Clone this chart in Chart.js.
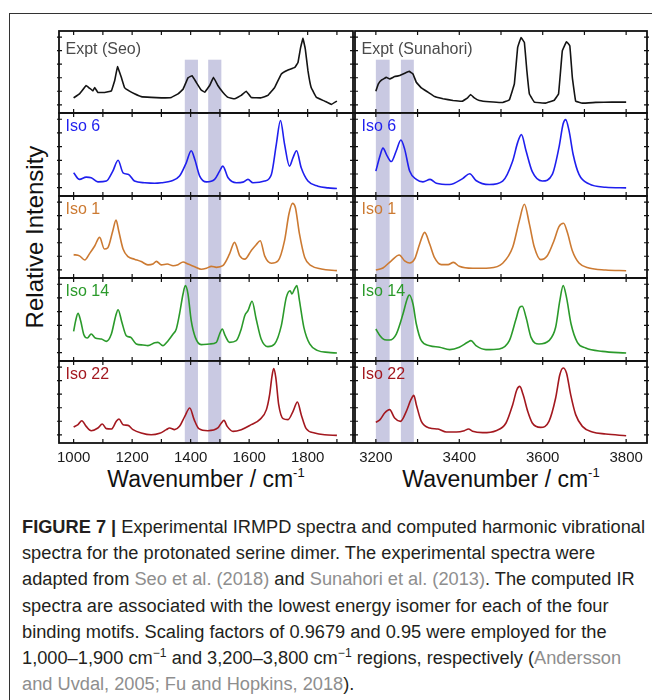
<!DOCTYPE html>
<html>
<head>
<meta charset="utf-8">
<script src="https://cdn.jsdelivr.net/npm/chart.js@4.4.0/dist/chart.umd.min.js"></script>
<style>
  body { margin: 0; background: #fff; width: 652px; height: 700px; overflow: hidden; position: relative; font-family: "Liberation Sans", Arial, sans-serif; }
  .frame { position: absolute; left: 9px; top: 13px; width: 800px; height: 800px; border-left: 1.5px solid #333; border-top: 1.5px solid #333; }
  .box { position: absolute; }
  .lbl { position: absolute; font-size: 16px; line-height: 16px; white-space: nowrap; }
  .axt { position: absolute; font-size: 23px; line-height: 23px; text-align: center; color: #111; white-space: nowrap; }
  .axt sup { font-size: 13px; line-height: 0; vertical-align: 10px; }
  #yt { position: absolute; left: 35px; top: 237px; font-size: 24px; line-height: 24px; color: #111; white-space: nowrap; transform: translate(-50%, -50%) rotate(-90deg); }
  #cap { position: absolute; left: 22px; top: 514px; font-size: 18px; line-height: 26.2px; color: #231f20; white-space: nowrap; transform-origin: 0 0; }
  #cap .ref { color: #8e8e8e; }
  #cap sup { font-size: 12px; line-height: 0; vertical-align: 7px; }
</style>
</head>
<body>
<div class="frame"></div>
<div id="yt">Relative Intensity</div>
<div class="axt" style="left:59px;top:468px;width:294px">Wavenumber / cm<sup>-1</sup></div>
<div class="axt" style="left:355px;top:468px;width:292px">Wavenumber / cm<sup>-1</sup></div>
<div id="cap"><span id="l1"><b>FIGURE 7 |</b> Experimental IRMPD spectra and computed harmonic vibrational</span><br>spectra for the protonated serine dimer. The experimental spectra were<br>adapted from <span class="ref">Seo et al. (2018)</span> and <span class="ref">Sunahori et al. (2013)</span>. The computed IR<br>spectra are associated with the lowest energy isomer for each of the four<br>binding motifs. Scaling factors of 0.9679 and 0.95 were employed for the<br>1,000–1,900 cm<sup>−1</sup> and 3,200–3,800 cm<sup>−1</sup> regions, respectively (<span class="ref">Andersson</span><br><span class="ref">and Uvdal, 2005; Fu and Hopkins, 2018</span>).</div>

<script>
// tick labels and shaded bands
const lowTicks = [1000, 1200, 1400, 1600, 1800];
const lowMinor = [1000, 1100, 1200, 1300, 1400, 1500, 1600, 1700, 1800, 1900];
const highTicks = [3200, 3400, 3600, 3800];
const highMinor = [3200, 3300, 3400, 3500, 3600, 3700, 3800];
const lowBands = [[1380, 1425], [1460, 1505]];
const highBands = [[3200, 3233], [3260, 3291]];
const yTickVals = [0.10, 0.265, 0.43, 0.595, 0.76, 0.925];

const panelLabels = ['Expt (Seo)', 'Iso 6', 'Iso 1', 'Iso 14', 'Iso 22'];
const panelLabelsHigh = ['Expt (Sunahori)', 'Iso 6', 'Iso 1', 'Iso 14', 'Iso 22'];

// 1000-1900 cm-1 region
const seoWn = [1000,1020,1043,1055,1066,1072,1083,1106,1129,1140,1150,1163,1174,1191,1208,1231,1265,1300,1334,1357,1374,1391,1405,1419,1436,1448,1465,1478,1493,1510,1528,1550,1573,1590,1607,1641,1664,1687,1710,1733,1756,1767,1776,1784,1792,1801,1812,1830,1858,1881,1900];
const seoInt = [0.185,0.234,0.335,0.30,0.27,0.31,0.25,0.25,0.27,0.39,0.565,0.435,0.31,0.266,0.234,0.20,0.19,0.185,0.19,0.234,0.29,0.43,0.455,0.375,0.28,0.254,0.335,0.435,0.335,0.254,0.19,0.173,0.214,0.266,0.19,0.185,0.214,0.31,0.476,0.524,0.556,0.617,0.80,0.91,0.78,0.516,0.31,0.19,0.145,0.105,0.145];

const iso6LoWn = [1000,1020,1043,1060,1083,1112,1134,1152,1169,1188,1208,1243,1277,1300,1334,1362,1385,1402,1414,1431,1454,1482,1499,1510,1528,1556,1579,1596,1613,1653,1676,1693,1707,1721,1738,1750,1762,1778,1801,1835,1870,1900];
const iso6LoInt = [0.28,0.20,0.228,0.22,0.17,0.18,0.30,0.43,0.28,0.26,0.18,0.16,0.154,0.16,0.18,0.24,0.40,0.545,0.443,0.24,0.17,0.20,0.30,0.36,0.22,0.16,0.167,0.20,0.16,0.18,0.26,0.626,0.91,0.626,0.36,0.463,0.545,0.34,0.18,0.118,0.098,0.09];

const iso1LoWn = [1000,1020,1038,1055,1072,1089,1105,1117,1134,1145,1154,1169,1186,1208,1231,1254,1271,1283,1300,1320,1340,1357,1374,1391,1414,1436,1454,1471,1488,1510,1533,1550,1568,1585,1607,1624,1638,1653,1676,1699,1721,1736,1748,1758,1772,1790,1812,1847,1900];
const iso1LoInt = [0.285,0.27,0.22,0.30,0.39,0.496,0.354,0.37,0.577,0.707,0.577,0.354,0.26,0.23,0.20,0.16,0.17,0.203,0.16,0.17,0.15,0.163,0.195,0.17,0.138,0.106,0.118,0.142,0.13,0.15,0.293,0.435,0.27,0.23,0.333,0.406,0.455,0.27,0.18,0.21,0.455,0.78,0.91,0.86,0.537,0.25,0.15,0.11,0.09];

const iso14LoWn = [1000,1007,1015,1024,1035,1047,1060,1074,1095,1112,1129,1144,1152,1165,1180,1195,1214,1237,1254,1277,1288,1305,1323,1340,1351,1362,1374,1382,1391,1402,1416,1436,1465,1488,1499,1508,1518,1533,1556,1573,1585,1596,1610,1624,1641,1664,1687,1710,1727,1740,1746,1755,1763,1772,1787,1807,1835,1870,1900];
const iso14LoInt = [0.357,0.486,0.574,0.486,0.317,0.277,0.325,0.277,0.265,0.237,0.325,0.546,0.618,0.466,0.305,0.285,0.205,0.193,0.185,0.22,0.225,0.185,0.245,0.325,0.386,0.566,0.807,0.908,0.807,0.486,0.285,0.197,0.205,0.225,0.325,0.386,0.305,0.225,0.245,0.386,0.546,0.606,0.72,0.506,0.265,0.173,0.205,0.426,0.767,0.847,0.807,0.867,0.908,0.727,0.406,0.205,0.125,0.104,0.096];

const iso22LoWn = [1000,1015,1028,1043,1060,1083,1098,1112,1129,1146,1155,1169,1186,1203,1231,1265,1294,1317,1328,1345,1362,1380,1397,1412,1428,1459,1493,1505,1514,1525,1545,1573,1607,1636,1659,1670,1678,1684,1691,1701,1716,1733,1750,1765,1778,1795,1824,1858,1900];
const iso22LoInt = [0.195,0.224,0.272,0.203,0.15,0.183,0.232,0.175,0.17,0.264,0.293,0.224,0.215,0.163,0.122,0.10,0.118,0.163,0.183,0.163,0.203,0.325,0.427,0.285,0.175,0.15,0.183,0.244,0.276,0.203,0.142,0.163,0.224,0.285,0.407,0.59,0.813,0.907,0.80,0.467,0.297,0.285,0.386,0.50,0.346,0.175,0.122,0.10,0.093];

// 3200-3800 cm-1 region
const sunWn = [3200,3206,3214,3225,3233,3245,3257,3269,3280,3289,3297,3309,3325,3341,3361,3385,3408,3420,3427,3436,3448,3472,3504,3520,3532,3540,3548,3556,3562,3568,3580,3607,3627,3638,3647,3657,3665,3671,3679,3695,3727,3766,3800];
const sunInt = [0.266,0.355,0.403,0.435,0.415,0.444,0.456,0.484,0.508,0.476,0.375,0.306,0.254,0.20,0.173,0.153,0.145,0.185,0.226,0.185,0.153,0.137,0.129,0.16,0.355,0.80,0.92,0.86,0.516,0.234,0.133,0.121,0.153,0.234,0.758,0.87,0.82,0.435,0.145,0.121,0.129,0.133,0.133];

const iso6HiWn = [3200,3210,3217,3227,3237,3249,3260,3269,3281,3297,3313,3330,3345,3377,3408,3425,3440,3472,3504,3528,3540,3549,3560,3575,3599,3623,3639,3649,3655,3663,3673,3687,3711,3751,3800];
const iso6HiInt = [0.30,0.484,0.577,0.484,0.415,0.545,0.675,0.565,0.30,0.20,0.17,0.20,0.154,0.138,0.21,0.268,0.187,0.138,0.18,0.423,0.646,0.74,0.545,0.293,0.18,0.26,0.585,0.87,0.92,0.79,0.50,0.26,0.146,0.106,0.098];

const iso1HiWn = [3200,3217,3237,3256,3269,3281,3293,3305,3317,3329,3341,3357,3373,3386,3400,3432,3472,3504,3528,3544,3556,3568,3580,3595,3611,3627,3639,3650,3659,3671,3687,3711,3751,3800];
const iso1HiInt = [0.098,0.122,0.21,0.28,0.21,0.183,0.232,0.415,0.557,0.415,0.244,0.163,0.163,0.19,0.142,0.118,0.122,0.18,0.374,0.70,0.90,0.66,0.374,0.224,0.272,0.455,0.626,0.667,0.557,0.333,0.183,0.122,0.098,0.089];

const iso14HiWn = [3200,3210,3221,3233,3249,3265,3275,3280,3289,3297,3309,3329,3353,3377,3400,3420,3428,3440,3464,3496,3520,3536,3545,3551,3560,3572,3591,3615,3631,3641,3649,3657,3668,3683,3703,3743,3800];
const iso14HiInt = [0.386,0.305,0.257,0.253,0.325,0.566,0.747,0.795,0.687,0.446,0.245,0.185,0.165,0.137,0.165,0.225,0.245,0.185,0.137,0.145,0.245,0.506,0.647,0.659,0.526,0.285,0.205,0.245,0.406,0.727,0.908,0.767,0.446,0.225,0.157,0.116,0.096];

const iso22HiWn = [3200,3210,3221,3233,3245,3259,3273,3284,3291,3297,3309,3329,3349,3369,3393,3412,3422,3432,3456,3488,3512,3528,3538,3545,3553,3564,3575,3595,3615,3631,3641,3649,3657,3667,3679,3695,3719,3751,3800];
const iso22HiInt = [0.252,0.285,0.366,0.407,0.305,0.264,0.386,0.528,0.581,0.467,0.264,0.183,0.171,0.134,0.134,0.15,0.171,0.142,0.126,0.15,0.244,0.467,0.65,0.69,0.59,0.386,0.244,0.19,0.264,0.549,0.833,0.915,0.854,0.59,0.346,0.203,0.134,0.11,0.089];

const lineColours = ['#141414', '#1f1fee', '#cc7a32', '#2b9a2b', '#a3181f'];
const labelColours = ['#4a4a4a', '#1f1fee', '#cc7a32', '#2b9a2b', '#a3181f'];
const bandColour = '#c9c9e2';

Chart.defaults.font.family = '"Liberation Sans", Arial, sans-serif';

const PAD = 3, AXH = 30;
const rowTop = [31, 113, 196, 278, 361];
const rowH = [82, 83, 82, 83, 82];
const cols = [
  { left: 59, width: 294, min: 950, max: 1955, ticks: lowTicks, minor: lowMinor, bands: lowBands, labels: panelLabels,
    series: [[seoWn, seoInt], [iso6LoWn, iso6LoInt], [iso1LoWn, iso1LoInt], [iso14LoWn, iso14LoInt], [iso22LoWn, iso22LoInt]] },
  { left: 355, width: 292, min: 3150, max: 3850, ticks: highTicks, minor: highMinor, bands: highBands, labels: panelLabelsHigh,
    series: [[sunWn, sunInt], [iso6HiWn, iso6HiInt], [iso1HiWn, iso1HiInt], [iso14HiWn, iso14HiInt], [iso22HiWn, iso22HiInt]] }
];

const panelDecor = {
  id: 'panelDecor',
  beforeDatasetsDraw(chart, args, opts) {
    const { ctx, chartArea: a, scales: { x, y } } = chart;
    ctx.save();
    ctx.fillStyle = bandColour;
    const yt = y.getPixelForValue(opts.bandTop);
    opts.bands.forEach(b => {
      const x0 = x.getPixelForValue(b[0]);
      const x1 = x.getPixelForValue(b[1]);
      ctx.fillRect(x0, yt, x1 - x0, a.bottom - yt);
    });
    ctx.restore();
  },
  afterDatasetsDraw(chart, args, opts) {
    const { ctx, chartArea: a, scales: { x, y } } = chart;
    ctx.save();
    ctx.strokeStyle = '#111';
    ctx.lineWidth = 1.8;
    ctx.strokeRect(a.left, a.top, a.right - a.left, a.bottom - a.top);
    ctx.lineWidth = 1.2;
    ctx.beginPath();
    opts.minor.forEach(v => {
      const px = x.getPixelForValue(v);
      ctx.moveTo(px, a.top); ctx.lineTo(px, a.top + 4);
      ctx.moveTo(px, a.bottom - 4); ctx.lineTo(px, a.bottom);
    });
    yTickVals.forEach(v => {
      const py = y.getPixelForValue(v);
      ctx.moveTo(a.left - 2, py); ctx.lineTo(a.left + 3, py);
      ctx.moveTo(a.right - 3, py); ctx.lineTo(a.right + 2, py);
    });
    ctx.stroke();
    ctx.restore();
  }
};

cols.forEach(col => {
  col.series.forEach((s, i) => {
    const last = i === 4;
    const w = col.width + 2 * PAD;
    const h = rowH[i] + PAD + (last ? AXH : PAD);
    const box = document.createElement('div');
    box.className = 'box';
    box.style.left = (col.left - PAD) + 'px';
    box.style.top = (rowTop[i] - PAD) + 'px';
    box.style.width = w + 'px';
    box.style.height = h + 'px';
    const cv = document.createElement('canvas');
    box.appendChild(cv);
    document.body.appendChild(box);

    const pts = s[0].map((wn, k) => ({ x: wn, y: s[1][k] }));
    new Chart(cv, {
      type: 'line',
      data: { datasets: [{
        data: pts,
        borderColor: lineColours[i],
        borderWidth: 1.6,
        pointRadius: 0,
        cubicInterpolationMode: i === 0 ? 'default' : 'monotone',
        tension: i === 0 ? 0.05 : 0.4,
        fill: false
      }] },
      options: {
        responsive: true,
        maintainAspectRatio: false,
        animation: false,
        events: [],
        layout: { padding: { left: PAD, right: PAD, top: PAD, bottom: last ? 0 : PAD } },
        plugins: {
          legend: { display: false },
          tooltip: { enabled: false },
          panelDecor: { bands: col.bands, bandTop: i === 0 ? 0.65 : 1, minor: col.minor }
        },
        scales: {
          x: {
            type: 'linear', min: col.min, max: col.max, display: last,
            grid: { display: false, drawTicks: false },
            border: { display: false },
            ticks: { font: { size: 15 }, color: '#1a1a1a', padding: 6, maxRotation: 0, autoSkip: false,
                     callback: v => String(v) },
            afterBuildTicks: sc => { sc.ticks = col.ticks.map(v => ({ value: v })); },
            afterFit: sc => {
              if (!last) return;
              sc.height = AXH; sc.paddingLeft = 0; sc.paddingRight = 0;
            }
          },
          y: { min: 0, max: 1, display: false }
        }
      },
      plugins: [panelDecor]
    });

    const lb = document.createElement('div');
    lb.className = 'lbl';
    lb.textContent = col.labels[i];
    lb.style.color = labelColours[i];
    lb.style.left = (col.left + 6.5) + 'px';
    lb.style.top = (rowTop[i] + (i === 0 ? 9.5 : 4.5)) + 'px';
    document.body.appendChild(lb);
  });
});

// fit caption width to the original line length
const cap = document.getElementById('cap');
const l1w = document.getElementById('l1').getBoundingClientRect().width;
cap.style.transform = 'scaleX(' + (623 / l1w) + ')';
</script>
</body>
</html>
